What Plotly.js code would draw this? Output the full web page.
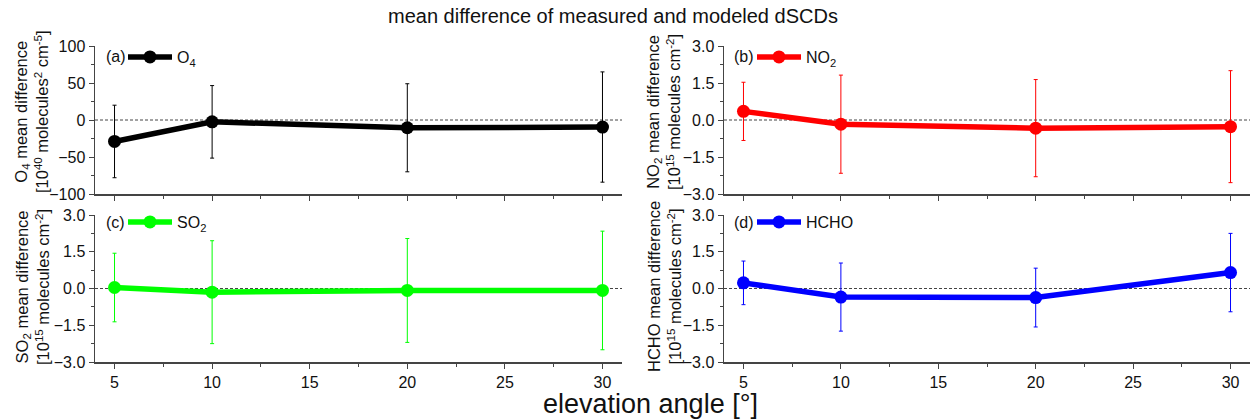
<!DOCTYPE html>
<html>
<head>
<meta charset="utf-8">
<script src="https://cdn.plot.ly/plotly-3.0.1.min.js"></script>
<style>html,body{margin:0;padding:0;background:#fff;}#chart{width:1250px;height:420px;}</style>
</head>
<body>
<div id="chart"></div>
<script>
// ---- data ----
const angles = [5, 10, 20, 30];
const o4 = [-29, -2.5, -10.5, -9.5];
const o4Err = [49, 49, 59.5, 74.5];
const no2 = [0.35, -0.17, -0.33, -0.27];
const no2Err = [1.18, 1.99, 1.97, 2.27];
const so2 = [0.04, -0.15, -0.08, -0.08];
const so2Err = [1.4, 2.1, 2.12, 2.42];
const hcho = [0.23, -0.35, -0.37, 0.65];
const hchoErr = [0.89, 1.39, 1.2, 1.6];
const xTicks = [5, 10, 15, 20, 25, 30];
const o4Ticks = [-100, -50, 0, 50, 100];
const colTicks = [-3.0, -1.5, 0.0, 1.5, 3.0];

const FONT = 'Liberation Sans, Arial, sans-serif';
const AX = '#444';

function tr(y, err, color, name, xa, ya, leg) {
  return {
    x: angles, y: y, type: 'scatter', mode: 'lines+markers', name: name,
    xaxis: xa, yaxis: ya, legend: leg,
    line: {color: color, width: 5.5},
    marker: {color: color, size: 13},
    error_y: {type: 'data', array: err, visible: true, color: color, thickness: 1, width: 2}
  };
}

const data = [
  tr(o4, o4Err, '#000000', 'O<sub>4</sub>', 'x', 'y', 'legend'),
  tr(no2, no2Err, '#ff0000', 'NO<sub>2</sub>', 'x2', 'y2', 'legend2'),
  tr(so2, so2Err, '#00ff00', 'SO<sub>2</sub>', 'x3', 'y3', 'legend3'),
  tr(hcho, hchoErr, '#0000ff', 'HCHO', 'x4', 'y4', 'legend4')
];

const colL = [95/1250, 622/1250];
const colR = [724/1250, 1.0];
const rowT = [1 - 194/420, 1 - 46/420];
const rowB = [1 - 362/420, 1 - 215/420];

function xax(dom, anchor, labels) {
  return {
    domain: dom, anchor: anchor, range: [4, 31], tickvals: xTicks,
    showticklabels: labels, ticks: 'outside', ticklen: 5, tickwidth: 1, tickcolor: AX,
    minor: {ticks: 'outside', ticklen: 3, tickwidth: 1, tickcolor: AX, dtick: 2.5, tick0: 2.5},
    showline: true, linecolor: AX, linewidth: 1.5, showgrid: false, zeroline: false,
    tickfont: {size: 16, color: '#111', family: FONT}, fixedrange: true
  };
}
function yax(dom, anchor, range, ticks, minorDt, fmt) {
  return {
    domain: dom, anchor: anchor, range: range, tickvals: ticks, tickformat: fmt,
    ticks: 'outside', ticklen: 5, tickwidth: 1, tickcolor: AX,
    minor: {ticks: 'outside', ticklen: 3, tickwidth: 1, tickcolor: AX, dtick: minorDt, tick0: 0},
    showline: true, linecolor: AX, linewidth: 1.5, showgrid: false, zeroline: false,
    tickfont: {size: 16, color: '#111', family: FONT}, fixedrange: true
  };
}

function zl(xa, ya) {
  return {type: 'line', xref: xa + ' domain', yref: ya, x0: 0, x1: 1, y0: 0, y1: 0,
          line: {color: '#444', width: 1, dash: '3px,2px'}, layer: 'below'};
}

function leg(xpx, ypx) {
  return {x: xpx/1250, y: 1 - ypx/420, xanchor: 'left', yanchor: 'middle',
          bgcolor: 'rgba(0,0,0,0)', borderwidth: 0, font: {size: 16, family: FONT, color: '#111'},
          itemwidth: 44, tracegroupgap: 0};
}

function ann(text, xpx, ypx, size, angle) {
  return {text: text, xref: 'paper', yref: 'paper', x: xpx/1250, y: 1 - ypx/420,
          xanchor: 'center', yanchor: 'middle', showarrow: false, textangle: angle || 0,
          font: {size: size, family: FONT, color: '#111'}};
}

const layout = {
  width: 1250, height: 420, margin: {l: 0, r: 0, t: 0, b: 0},
  paper_bgcolor: '#fff', plot_bgcolor: '#fff', font: {family: FONT},
  showlegend: true,
  xaxis: xax(colL, 'y', false), yaxis: yax(rowT, 'x', [-100, 100], o4Ticks, 25, 'd'),
  xaxis2: xax(colR, 'y2', false), yaxis2: yax(rowT, 'x2', [-3, 3], colTicks, 0.75, '.1f'),
  xaxis3: xax(colL, 'y3', true), yaxis3: yax(rowB, 'x3', [-3, 3], colTicks, 0.75, '.1f'),
  xaxis4: xax(colR, 'y4', true), yaxis4: yax(rowB, 'x4', [-3, 3], colTicks, 0.75, '.1f'),
  legend: leg(123, 57), legend2: leg(752, 57), legend3: leg(123, 222), legend4: leg(752, 222),
  shapes: [zl('x', 'y'), zl('x2', 'y2'), zl('x3', 'y3'), zl('x4', 'y4')],
  annotations: [
    ann('mean difference of measured and modeled dSCDs', 613, 16, 20),
    ann('elevation angle [°]', 650, 404, 27),
    ann('(a)', 116, 57, 16), ann('(b)', 744, 57, 16),
    ann('(c)', 115, 222, 16), ann('(d)', 744, 222, 16),
    ann('O<sub>4</sub> mean difference<br>[10<sup>40</sup> molecules<sup>2</sup> cm<sup>-5</sup>]', 32, 112, 16.5, -90),
    ann('NO<sub>2</sub> mean difference<br>[10<sup>15</sup> molecules cm<sup>-2</sup>]', 664, 112, 16.5, -90),
    ann('SO<sub>2</sub> mean difference<br>[10<sup>15</sup> molecules cm<sup>-2</sup>]', 32, 287, 16.5, -90),
    ann('HCHO mean difference<br>[10<sup>15</sup> molecules cm<sup>-2</sup>]', 664, 287, 16.5, -90)
  ]
};

Plotly.newPlot('chart', data, layout, {staticPlot: true, displayModeBar: false});
</script>
</body>
</html>
